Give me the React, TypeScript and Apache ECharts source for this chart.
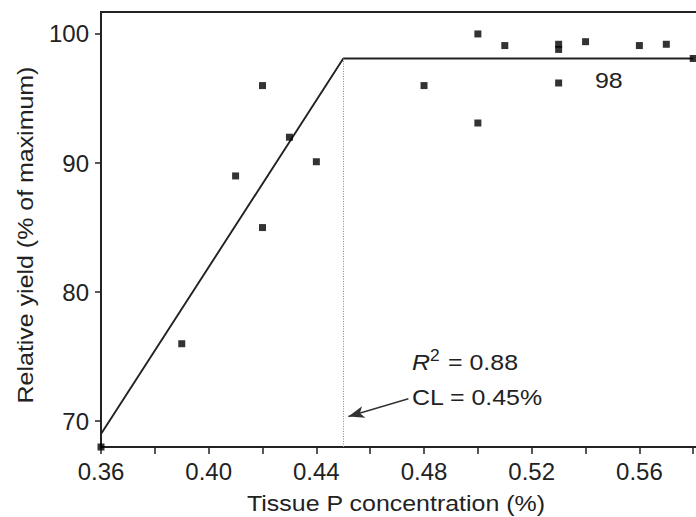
import React, { useEffect, useRef } from "react";
import * as echarts from "echarts";

// Observed points: tissue P concentration (%) and relative yield (% of maximum)
const tissueP = [0.36, 0.39, 0.41, 0.42, 0.42, 0.43, 0.44, 0.48, 0.5, 0.5, 0.51, 0.53, 0.53, 0.53, 0.54, 0.56, 0.57, 0.58];
const relYield = [68, 76, 89, 96, 85, 92, 90.1, 96, 100, 93.1, 99.1, 99.2, 98.8, 96.2, 99.4, 99.1, 99.2, 98.1];

// Linear-plateau fit
const fitX = [0.36, 0.45, 0.58];
const fitY = [69, 98.1, 98.1];
const critical = 0.45;
const plateau = 98.1;

// Axis ticks / labels
const xTickValues = [0.36, 0.38, 0.4, 0.42, 0.44, 0.46, 0.48, 0.5, 0.52, 0.54, 0.56, 0.58];
const xLabelValues = [0.36, 0.4, 0.44, 0.48, 0.52, 0.56];
const yTickValues = [70, 80, 90, 100];

// Arrow annotation (data coordinates)
const arrowFrom = [0.4742, 71.74];
const arrowTo = [0.4519, 70.36];

const FONT = "'Liberation Sans', Arial, Helvetica, sans-serif";
const INK = "#222";
const SX = 1.085;

export default function App() {
  const ref = useRef<HTMLDivElement>(null);
  useEffect(() => {
    if (!ref.current) return;
    const chart = echarts.init(ref.current, undefined, { renderer: "svg" });
    const points = tissueP.map((x, i) => [x, relYield[i]]);
    const fit = fitX.map((x, i) => [x, fitY[i]]);
    const txt = (text: string, x: number, y: number, extra: any = {}, el: any = {}) => ({
      type: "text",
      x,
      y,
      scaleX: SX,
      ...el,
      style: { text, align: "left", verticalAlign: "middle", fontSize: 23, fontFamily: FONT, fill: INK, ...extra },
    });
    chart.setOption({
      animation: false,
      backgroundColor: "#fff",
      grid: {
        left: 101,
        right: 0,
        top: 12,
        bottom: 70,
        show: true,
        borderColor: INK,
        borderWidth: 2,
        backgroundColor: "transparent",
      },
      xAxis: {
        type: "value",
        min: 0.36,
        max: 0.584,
        splitLine: { show: false },
        axisLine: { show: true, lineStyle: { color: INK, width: 2 } },
        axisTick: { show: true, inside: false, length: 7, customValues: xTickValues, lineStyle: { color: INK, width: 1.5 } },
        axisLabel: {
          customValues: xLabelValues,
          formatter: (v: number) => v.toFixed(2),
          margin: 12,
          color: INK,
          fontSize: 24,
          fontFamily: FONT,
        },
      },
      yAxis: {
        type: "value",
        min: 68,
        max: 101.7,
        splitLine: { show: false },
        axisLine: { show: true, lineStyle: { color: INK, width: 2 } },
        axisTick: { show: true, inside: false, length: 6, customValues: yTickValues, lineStyle: { color: INK, width: 1.5 } },
        axisLabel: {
          customValues: yTickValues,
          margin: 12,
          color: INK,
          fontSize: 24,
          fontFamily: FONT,
        },
      },
      series: [
        {
          type: "line",
          data: fit,
          symbol: "none",
          lineStyle: { color: INK, width: 1.9 },
          silent: true,
          markLine: {
            silent: true,
            symbol: "none",
            label: { show: false },
            lineStyle: { color: "#888", width: 1, type: [1, 1.5] },
            data: [[{ coord: [critical, plateau] }, { coord: [critical, 68] }]],
          },
          z: 2,
        },
        {
          type: "line",
          data: [],
          markLine: {
            silent: true,
            symbol: ["none", "arrow"],
            symbolSize: [9, 16],
            label: { show: false },
            lineStyle: { color: "#333", width: 1.5, type: "solid" },
            data: [[{ coord: arrowFrom }, { coord: arrowTo }]],
          },
        },
        {
          type: "scatter",
          data: points,
          symbol: "rect",
          symbolSize: 7,
          clip: false,
          itemStyle: { color: "#000" },
          z: 3,
        },
      ],
      graphic: [
        txt("Tissue P concentration (%)", 396, 503, { align: "center" }),
        txt("Relative yield (% of maximum)", 25, 235, { align: "center" }, { rotation: Math.PI / 2 }),
        txt("98", 595, 80),
        txt("R", 412, 362, { fontStyle: "italic" }),
        txt("2", 430, 356, { fontSize: 16 }),
        txt("= 0.88", 448, 362),
        txt("CL = 0.45%", 412, 397),
      ],
    });
    return () => chart.dispose();
  }, []);
  return (
    <div style={{ position: "fixed", left: 0, top: 0, width: 696, height: 517, overflow: "hidden", background: "#fff" }}>
      <div ref={ref} style={{ width: 704, height: 517 }} />
    </div>
  );
}
